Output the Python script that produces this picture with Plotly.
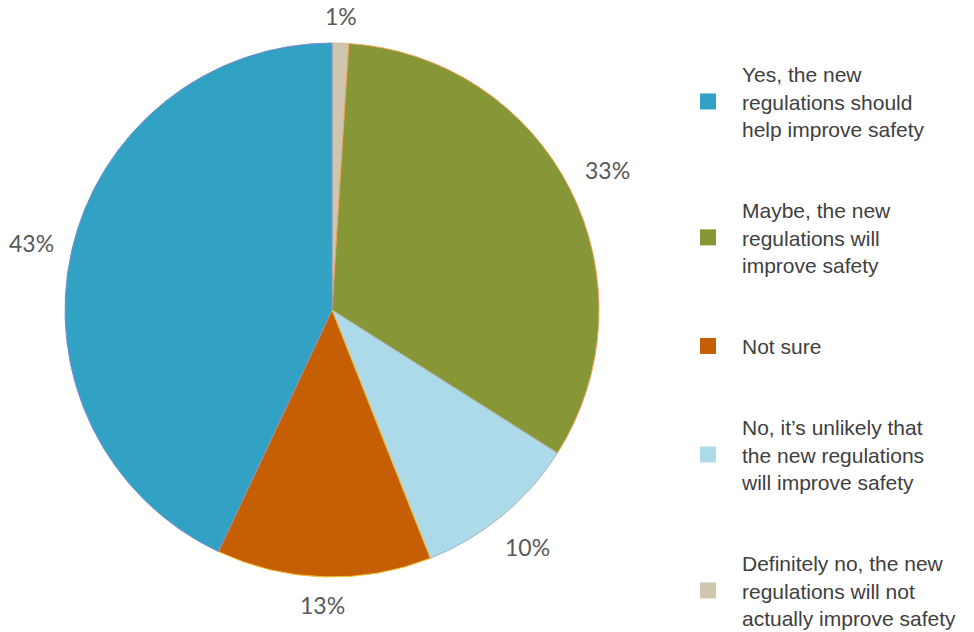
import math
import plotly.graph_objects as go

# Survey responses (legend order)
labels = [
    "Yes, the new<br>regulations should<br>help improve safety",
    "Maybe, the new<br>regulations will<br>improve safety",
    "Not sure",
    "No, it\u2019s unlikely that<br>the new regulations<br>will improve safety",
    "Definitely no, the new<br>regulations will not<br>actually improve safety",
]
values = [43, 33, 13, 10, 1]
colors = ["#31A1C4", "#879637", "#C65F03", "#ADDAE8", "#D0C5AE"]
edge_colors = ["#7C8FCB", "#F2A45A", "#F5C12E", "#A5B4BA", "#C8BC9C"]

# Order in which the slices run clockwise from 12 o'clock
slice_order = [4, 1, 3, 2, 0]

W, H = 974, 632
dom_x = [65 / W, 599 / W]
dom_y = [55 / H, 589 / H]

fig = go.Figure()

fig.add_trace(go.Pie(
    labels=[labels[i] for i in slice_order],
    values=[values[i] for i in slice_order],
    marker=dict(colors=[colors[i] for i in slice_order],
                line=dict(color=[edge_colors[i] for i in slice_order], width=1)),
    sort=False,
    direction="clockwise",
    rotation=0,
    textinfo="none",
    showlegend=False,
    domain=dict(x=dom_x, y=dom_y),
    hoverinfo="label+percent",
))

# Percentage labels just beyond the rim, at each slice's mid-angle
cx = (dom_x[0] + dom_x[1]) / 2
cy = (dom_y[0] + dom_y[1]) / 2
radius = min((dom_x[1] - dom_x[0]) * W, (dom_y[1] - dom_y[0]) * H) / 2
total = sum(values)
cum = 0
for i in slice_order:
    v = values[i]
    theta = 2 * math.pi * (cum + v / 2) / total
    cum += v
    text = f"{v}%"
    half_w = 8.5 * len(text)
    half_h = 13.5
    s, c = math.sin(theta), math.cos(theta)
    r_lab = radius + 13.5 + abs(s) * half_w + abs(c) * half_h
    fig.add_annotation(
        x=cx + r_lab * s / W, y=cy + r_lab * c / H,
        xref="paper", yref="paper", text=text, showarrow=False,
        xanchor="center", yanchor="middle",
        font=dict(family="Lato, Open Sans, sans-serif", size=23, color="#595959"),
    )

# Legend entries, listed in survey order
for i, (lab, col) in enumerate(zip(labels, colors)):
    fig.add_trace(go.Scatter(
        x=[None], y=[None], mode="markers", name=lab,
        marker=dict(symbol="square", size=16, color=col),
        legendgroup=f"g{i}", showlegend=True,
    ))

fig.update_layout(
    width=W, height=H,
    margin=dict(l=0, r=0, t=0, b=0, autoexpand=False),
    paper_bgcolor="white", plot_bgcolor="white",
    xaxis=dict(visible=False), yaxis=dict(visible=False),
    legend=dict(
        x=674 / W, xanchor="left", y=1 - 54 / H, yanchor="top",
        font=dict(family="Liberation Sans, Arial, sans-serif", size=21, color="#404040"),
        traceorder="grouped", tracegroupgap=51,
        itemsizing="trace", itemwidth=58, bgcolor="rgba(0,0,0,0)",
    ),
)

fig.write_html("out.html")
